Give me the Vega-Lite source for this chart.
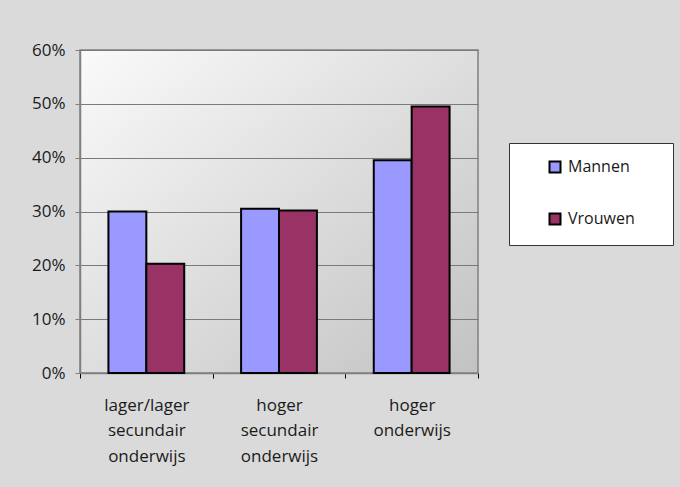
{
  "$schema": "https://vega.github.io/schema/vega-lite/v6.json",
  "width": 398,
  "height": 323,
  "autosize": {"type": "none"},
  "padding": {"left": 80, "top": 50, "right": 202, "bottom": 114},
  "background": "#dadada",
  "data": {
    "values": [
      {"groep": "lager/lager|secundair|onderwijs", "geslacht": "Mannen", "aandeel": 0.300},
      {"groep": "lager/lager|secundair|onderwijs", "geslacht": "Vrouwen", "aandeel": 0.203},
      {"groep": "hoger|secundair|onderwijs", "geslacht": "Mannen", "aandeel": 0.305},
      {"groep": "hoger|secundair|onderwijs", "geslacht": "Vrouwen", "aandeel": 0.302},
      {"groep": "hoger|onderwijs", "geslacht": "Mannen", "aandeel": 0.395},
      {"groep": "hoger|onderwijs", "geslacht": "Vrouwen", "aandeel": 0.495}
    ]
  },
  "mark": {"type": "bar", "stroke": "#000000", "strokeWidth": 2},
  "encoding": {
    "x": {
      "field": "groep", "type": "nominal", "sort": null,
      "scale": {"paddingInner": 0, "paddingOuter": 0},
      "axis": {
        "title": null, "labelAngle": 0, "labelExpr": "split(datum.label, '|')",
        "tickBand": "extent", "domainColor": "#808080", "domainWidth": 1.5,
        "tickColor": "#000000", "tickSize": 5, "labelFontSize": 17,
        "labelLineHeight": 25.5, "labelPadding": 19, "labelColor": "#1a1a1a", "grid": false
      }
    },
    "y": {
      "field": "aandeel", "type": "quantitative",
      "scale": {"domain": [0, 0.6], "nice": false},
      "axis": {
        "title": null, "format": ".0%", "values": [0, 0.1, 0.2, 0.3, 0.4, 0.5, 0.6],
        "gridColor": "#7a7a7a", "gridWidth": 1, "domainColor": "#808080", "domainWidth": 1.5,
        "tickColor": "#808080", "tickSize": 5, "labelFontSize": 17, "labelPadding": 10,
        "labelColor": "#1a1a1a"
      }
    },
    "xOffset": {"field": "geslacht", "scale": {"paddingInner": 0, "paddingOuter": 0.75}},
    "color": {
      "field": "geslacht", "type": "nominal",
      "scale": {"domain": ["Mannen", "Vrouwen"], "range": ["#9999ff", "#993366"]},
      "legend": {
        "title": " ", "titleOrient": "right", "titlePadding": 22, "titleFontSize": 16,
        "orient": "none", "legendX": 429, "legendY": 93,
        "fillColor": "#ffffff", "strokeColor": "#333333", "padding": 16,
        "symbolType": "square", "symbolSize": 121, "symbolStrokeColor": "#000000",
        "symbolStrokeWidth": 2, "symbolOffset": 22, "labelFontSize": 16, "labelColor": "#1a1a1a",
        "rowPadding": 32, "labelOffset": 5
      }
    }
  },
  "config": {
    "font": "Open Sans",
    "view": {
      "stroke": "#808080", "strokeWidth": 1.5,
      "fill": {"gradient": "linear", "x1": 0, "y1": 0, "x2": 1, "y2": 1,
        "stops": [{"offset": 0, "color": "#fafafa"}, {"offset": 1, "color": "#c2c2c2"}]}
    }
  }
}
